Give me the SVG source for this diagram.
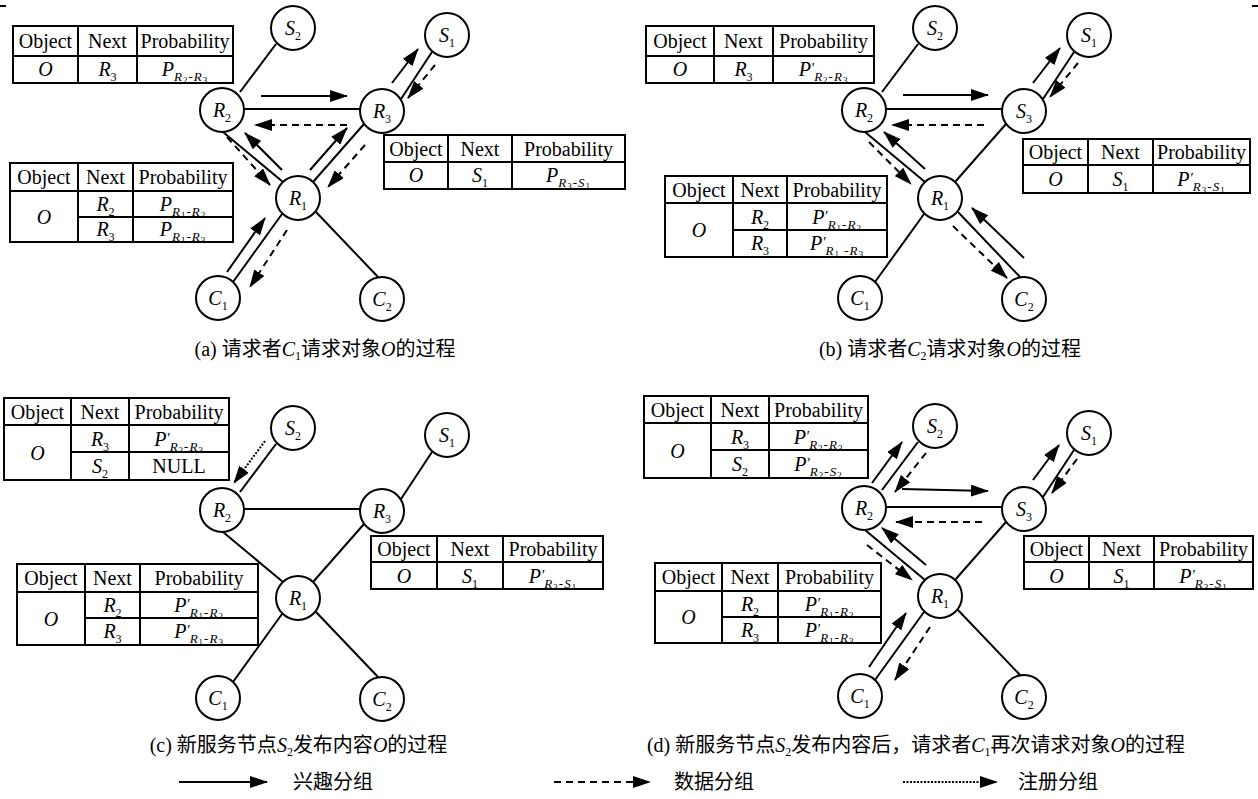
<svg xmlns="http://www.w3.org/2000/svg" width="1258" height="799" viewBox="0 0 1258 799">
<style>
.e{stroke:#000;stroke-width:2;fill:none}
.a{stroke:#000;stroke-width:2;fill:none;marker-end:url(#ah)}
.d{stroke-dasharray:7 5}
.o{stroke-dasharray:2 1.5}
.nd circle{fill:#fff;stroke:#000;stroke-width:2}
.lb{font-family:'Liberation Serif',serif;font-size:20px;text-anchor:middle}
.i{font-style:italic}
.sb{font-size:12px;font-style:normal}
.s1{font-size:13px;letter-spacing:1px}
.s2{font-size:9px;font-style:normal;letter-spacing:1px}
.pr{font-size:15px;font-style:italic}
.tb rect,.tb line{stroke:#000;stroke-width:2;fill:none}
.tb text{font-family:'Liberation Serif',serif;font-size:20px;text-anchor:middle}
.cap{font-family:'Liberation Serif','Noto Sans CJK SC',sans-serif;font-size:20px}
</style>
<defs>
<marker id="ah" viewBox="0 0 18 12" refX="17" refY="6" markerWidth="18" markerHeight="12" markerUnits="userSpaceOnUse" orient="auto"><path d="M0,0 L18,6 L0,12 z" fill="#000"/></marker>
</defs>
<line class="e" x1="0" y1="6" x2="6" y2="6"/>
<line class="e" x1="1252" y1="6" x2="1258" y2="6"/>

<g id="connectors">
<!-- panel a edges -->
<line class="e" x1="276" y1="44" x2="240" y2="92"/>
<line class="e" x1="244" y1="109" x2="360" y2="109"/>
<line class="e" x1="223" y1="132" x2="283" y2="182"/>
<line class="e" x1="364" y1="124" x2="313" y2="182"/>
<line class="e" x1="401" y1="99" x2="432" y2="52"/>
<line class="e" x1="282" y1="214" x2="233" y2="282"/>
<line class="e" x1="316" y1="212" x2="378" y2="277"/>
<!-- panel a arrows -->
<line class="a" x1="261" y1="96" x2="347" y2="96"/>
<line class="a d" x1="347" y1="125" x2="255" y2="125"/>
<line class="a" x1="282" y1="170" x2="245" y2="133"/>
<line class="a d" x1="227" y1="137" x2="270" y2="185"/>
<line class="a" x1="310" y1="170" x2="347" y2="128"/>
<line class="a d" x1="365" y1="145" x2="328" y2="187"/>
<line class="a" x1="392" y1="83" x2="418" y2="49"/>
<line class="a d" x1="435" y1="65" x2="408" y2="98"/>
<line class="a" x1="227" y1="272" x2="265" y2="218"/>
<line class="a d" x1="287" y1="230" x2="250" y2="287"/>
<!-- panel b edges -->
<line class="e" x1="918" y1="44" x2="882" y2="92"/>
<line class="e" x1="886" y1="109" x2="1002" y2="109"/>
<line class="e" x1="865" y1="132" x2="925" y2="182"/>
<line class="e" x1="1006" y1="124" x2="955" y2="182"/>
<line class="e" x1="1043" y1="99" x2="1074" y2="52"/>
<line class="e" x1="924" y1="214" x2="875" y2="282"/>
<line class="e" x1="958" y1="212" x2="1020" y2="277"/>
<!-- panel b arrows -->
<line class="a" x1="903" y1="95" x2="988" y2="95"/>
<line class="a d" x1="984" y1="125" x2="892" y2="125"/>
<line class="a" x1="925" y1="169" x2="884" y2="132"/>
<line class="a d" x1="869" y1="142" x2="911" y2="184"/>
<line class="a" x1="1033" y1="83" x2="1060" y2="48"/>
<line class="a d" x1="1078" y1="63" x2="1050" y2="97"/>
<line class="a" x1="1024" y1="258" x2="972" y2="208"/>
<line class="a d" x1="953" y1="226" x2="1007" y2="278"/>
<!-- panel c edges -->
<line class="e" x1="276" y1="444" x2="240" y2="492"/>
<line class="e" x1="244" y1="509" x2="360" y2="509"/>
<line class="e" x1="223" y1="532" x2="283" y2="582"/>
<line class="e" x1="364" y1="524" x2="313" y2="582"/>
<line class="e" x1="401" y1="499" x2="432" y2="452"/>
<line class="e" x1="282" y1="614" x2="233" y2="682"/>
<line class="e" x1="316" y1="612" x2="378" y2="677"/>
<!-- panel c arrow -->
<line class="a o" x1="265" y1="441" x2="234" y2="483"/>
<!-- panel d edges -->
<line class="e" x1="918" y1="442" x2="882" y2="490"/>
<line class="e" x1="886" y1="507" x2="1002" y2="507"/>
<line class="e" x1="865" y1="530" x2="925" y2="580"/>
<line class="e" x1="1006" y1="522" x2="955" y2="580"/>
<line class="e" x1="1043" y1="497" x2="1074" y2="450"/>
<line class="e" x1="924" y1="612" x2="875" y2="680"/>
<line class="e" x1="958" y1="610" x2="1020" y2="675"/>
<!-- panel d arrows -->
<line class="a" x1="872" y1="483" x2="902" y2="442"/>
<line class="a d" x1="926" y1="453" x2="895" y2="492"/>
<line class="a" x1="902" y1="489" x2="988" y2="491"/>
<line class="a d" x1="982" y1="522" x2="896" y2="522"/>
<line class="a" x1="926" y1="565" x2="882" y2="528"/>
<line class="a d" x1="867" y1="545" x2="912" y2="580"/>
<line class="a" x1="1033" y1="480" x2="1059" y2="445"/>
<line class="a d" x1="1077" y1="459" x2="1052" y2="493"/>
<line class="a" x1="869" y1="667" x2="906" y2="613"/>
<line class="a d" x1="930" y1="627" x2="895" y2="680"/>
<!-- legend -->
<line class="a" x1="179" y1="782" x2="267" y2="782"/>
<line class="a d" x1="554" y1="782" x2="650" y2="782"/>
<line class="a o" x1="903" y1="782" x2="997" y2="782"/>
</g>

<!-- panel a nodes -->
<g id="a-S2" class="nd"><circle cx="293" cy="28" r="22"/><text class="lb" x="293" y="35"><tspan class="i">S</tspan><tspan class="sb" dy="5">2</tspan></text></g>
<g id="a-S1" class="nd"><circle cx="447" cy="35" r="22"/><text class="lb" x="447" y="42"><tspan class="i">S</tspan><tspan class="sb" dy="5">1</tspan></text></g>
<g id="a-R2" class="nd"><circle cx="222" cy="110" r="22"/><text class="lb" x="222" y="117"><tspan class="i">R</tspan><tspan class="sb" dy="5">2</tspan></text></g>
<g id="a-R3" class="nd"><circle cx="382" cy="111" r="22"/><text class="lb" x="382" y="118"><tspan class="i">R</tspan><tspan class="sb" dy="5">3</tspan></text></g>
<g id="a-R1" class="nd"><circle cx="298" cy="198" r="22"/><text class="lb" x="298" y="205"><tspan class="i">R</tspan><tspan class="sb" dy="5">1</tspan></text></g>
<g id="a-C1" class="nd"><circle cx="218" cy="298" r="22"/><text class="lb" x="218" y="305"><tspan class="i">C</tspan><tspan class="sb" dy="5">1</tspan></text></g>
<g id="a-C2" class="nd"><circle cx="382" cy="299" r="22"/><text class="lb" x="382" y="306"><tspan class="i">C</tspan><tspan class="sb" dy="5">2</tspan></text></g>

<!-- panel b nodes -->
<g id="b-S2" class="nd"><circle cx="935" cy="28" r="22"/><text class="lb" x="935" y="35"><tspan class="i">S</tspan><tspan class="sb" dy="5">2</tspan></text></g>
<g id="b-S1" class="nd"><circle cx="1089" cy="35" r="22"/><text class="lb" x="1089" y="42"><tspan class="i">S</tspan><tspan class="sb" dy="5">1</tspan></text></g>
<g id="b-R2" class="nd"><circle cx="864" cy="110" r="22"/><text class="lb" x="864" y="117"><tspan class="i">R</tspan><tspan class="sb" dy="5">2</tspan></text></g>
<g id="b-S3" class="nd"><circle cx="1024" cy="111" r="22"/><text class="lb" x="1024" y="118"><tspan class="i">S</tspan><tspan class="sb" dy="5">3</tspan></text></g>
<g id="b-R1" class="nd"><circle cx="940" cy="198" r="22"/><text class="lb" x="940" y="205"><tspan class="i">R</tspan><tspan class="sb" dy="5">1</tspan></text></g>
<g id="b-C1" class="nd"><circle cx="860" cy="298" r="22"/><text class="lb" x="860" y="305"><tspan class="i">C</tspan><tspan class="sb" dy="5">1</tspan></text></g>
<g id="b-C2" class="nd"><circle cx="1024" cy="299" r="22"/><text class="lb" x="1024" y="306"><tspan class="i">C</tspan><tspan class="sb" dy="5">2</tspan></text></g>

<!-- panel c nodes -->
<g id="c-S2" class="nd"><circle cx="293" cy="428" r="22"/><text class="lb" x="293" y="435"><tspan class="i">S</tspan><tspan class="sb" dy="5">2</tspan></text></g>
<g id="c-S1" class="nd"><circle cx="447" cy="435" r="22"/><text class="lb" x="447" y="442"><tspan class="i">S</tspan><tspan class="sb" dy="5">1</tspan></text></g>
<g id="c-R2" class="nd"><circle cx="222" cy="510" r="22"/><text class="lb" x="222" y="517"><tspan class="i">R</tspan><tspan class="sb" dy="5">2</tspan></text></g>
<g id="c-R3" class="nd"><circle cx="382" cy="511" r="22"/><text class="lb" x="382" y="518"><tspan class="i">R</tspan><tspan class="sb" dy="5">3</tspan></text></g>
<g id="c-R1" class="nd"><circle cx="298" cy="598" r="22"/><text class="lb" x="298" y="605"><tspan class="i">R</tspan><tspan class="sb" dy="5">1</tspan></text></g>
<g id="c-C1" class="nd"><circle cx="218" cy="698" r="22"/><text class="lb" x="218" y="705"><tspan class="i">C</tspan><tspan class="sb" dy="5">1</tspan></text></g>
<g id="c-C2" class="nd"><circle cx="382" cy="699" r="22"/><text class="lb" x="382" y="706"><tspan class="i">C</tspan><tspan class="sb" dy="5">2</tspan></text></g>

<!-- panel d nodes -->
<g id="d-S2" class="nd"><circle cx="935" cy="426" r="22"/><text class="lb" x="935" y="433"><tspan class="i">S</tspan><tspan class="sb" dy="5">2</tspan></text></g>
<g id="d-S1" class="nd"><circle cx="1089" cy="433" r="22"/><text class="lb" x="1089" y="440"><tspan class="i">S</tspan><tspan class="sb" dy="5">1</tspan></text></g>
<g id="d-R2" class="nd"><circle cx="864" cy="508" r="22"/><text class="lb" x="864" y="515"><tspan class="i">R</tspan><tspan class="sb" dy="5">2</tspan></text></g>
<g id="d-S3" class="nd"><circle cx="1024" cy="509" r="22"/><text class="lb" x="1024" y="516"><tspan class="i">S</tspan><tspan class="sb" dy="5">3</tspan></text></g>
<g id="d-R1" class="nd"><circle cx="940" cy="596" r="22"/><text class="lb" x="940" y="603"><tspan class="i">R</tspan><tspan class="sb" dy="5">1</tspan></text></g>
<g id="d-C1" class="nd"><circle cx="860" cy="696" r="22"/><text class="lb" x="860" y="703"><tspan class="i">C</tspan><tspan class="sb" dy="5">1</tspan></text></g>
<g id="d-C2" class="nd"><circle cx="1024" cy="697" r="22"/><text class="lb" x="1024" y="704"><tspan class="i">C</tspan><tspan class="sb" dy="5">2</tspan></text></g>

<!-- tables panel a -->
<g id="a-T1" class="tb">
<rect x="13" y="26" width="220" height="57"/>
<line x1="13" y1="56" x2="233" y2="56"/><line x1="78" y1="26" x2="78" y2="83"/><line x1="137" y1="26" x2="137" y2="83"/>
<text x="45.5" y="48">Object</text><text x="107.5" y="48">Next</text><text x="185" y="48">Probability</text>
<text x="45.5" y="76" class="i">O</text>
<text x="107.5" y="76"><tspan class="i">R</tspan><tspan class="sb" dy="5">3</tspan></text>
<text x="185" y="76"><tspan class="i">P</tspan><tspan class="s1 i" dy="5">R</tspan><tspan class="s2" dy="2">2</tspan><tspan class="s1" dy="-2">-</tspan><tspan class="s1 i">R</tspan><tspan class="s2" dy="2">3</tspan></text>
</g>
<g id="a-T2" class="tb">
<rect x="10" y="163" width="223" height="79"/>
<line x1="10" y1="191" x2="233" y2="191"/><line x1="78" y1="163" x2="78" y2="242"/><line x1="133" y1="163" x2="133" y2="242"/><line x1="78" y1="217" x2="233" y2="217"/>
<text x="44" y="184">Object</text><text x="105.5" y="184">Next</text><text x="183" y="184">Probability</text>
<text x="44" y="223.5" class="i">O</text>
<text x="105.5" y="211"><tspan class="i">R</tspan><tspan class="sb" dy="5">2</tspan></text>
<text x="105.5" y="236"><tspan class="i">R</tspan><tspan class="sb" dy="5">3</tspan></text>
<text x="183" y="211"><tspan class="i">P</tspan><tspan class="s1 i" dy="5">R</tspan><tspan class="s2" dy="2">1</tspan><tspan class="s1" dy="-2">-</tspan><tspan class="s1 i">R</tspan><tspan class="s2" dy="2">2</tspan></text>
<text x="183" y="236"><tspan class="i">P</tspan><tspan class="s1 i" dy="5">R</tspan><tspan class="s2" dy="2">1</tspan><tspan class="s1" dy="-2">-</tspan><tspan class="s1 i">R</tspan><tspan class="s2" dy="2">3</tspan></text>
</g>
<g id="a-T3" class="tb">
<rect x="384" y="135" width="241" height="54"/>
<line x1="384" y1="162" x2="625" y2="162"/><line x1="448" y1="135" x2="448" y2="189"/><line x1="512" y1="135" x2="512" y2="189"/>
<text x="416" y="155.5">Object</text><text x="480" y="155.5">Next</text><text x="568.5" y="155.5">Probability</text>
<text x="416" y="182" class="i">O</text>
<text x="480" y="182"><tspan class="i">S</tspan><tspan class="sb" dy="5">1</tspan></text>
<text x="568.5" y="182"><tspan class="i">P</tspan><tspan class="s1 i" dy="5">R</tspan><tspan class="s2" dy="2">3</tspan><tspan class="s1" dy="-2">-</tspan><tspan class="s1 i">S</tspan><tspan class="s2" dy="2">1</tspan></text>
</g>

<!-- tables panel b -->
<g id="b-T1" class="tb">
<rect x="646" y="26" width="228" height="57"/>
<line x1="646" y1="56" x2="874" y2="56"/><line x1="714" y1="26" x2="714" y2="83"/><line x1="773" y1="26" x2="773" y2="83"/>
<text x="680" y="48">Object</text><text x="743.5" y="48">Next</text><text x="823.5" y="48">Probability</text>
<text x="680" y="76" class="i">O</text>
<text x="743.5" y="76"><tspan class="i">R</tspan><tspan class="sb" dy="5">3</tspan></text>
<text x="823.5" y="76"><tspan class="i">P</tspan><tspan class="pr" dy="-3">′</tspan><tspan class="s1 i" dy="8">R</tspan><tspan class="s2" dy="2">2</tspan><tspan class="s1" dy="-2">-</tspan><tspan class="s1 i">R</tspan><tspan class="s2" dy="2">3</tspan></text>
</g>
<g id="b-T2" class="tb">
<rect x="665" y="176" width="222" height="81"/>
<line x1="665" y1="203" x2="887" y2="203"/><line x1="733" y1="176" x2="733" y2="257"/><line x1="787" y1="176" x2="787" y2="257"/><line x1="733" y1="230" x2="887" y2="230"/>
<text x="699" y="196.5">Object</text><text x="760" y="196.5">Next</text><text x="837" y="196.5">Probability</text>
<text x="699" y="237" class="i">O</text>
<text x="760" y="223.5"><tspan class="i">R</tspan><tspan class="sb" dy="5">2</tspan></text>
<text x="760" y="250"><tspan class="i">R</tspan><tspan class="sb" dy="5">3</tspan></text>
<text x="837" y="223.5"><tspan class="i">P</tspan><tspan class="pr" dy="-3">′</tspan><tspan class="s1 i" dy="8">R</tspan><tspan class="s2" dy="2">1</tspan><tspan class="s1" dy="-2">-</tspan><tspan class="s1 i">R</tspan><tspan class="s2" dy="2">2</tspan></text>
<text x="837" y="250"><tspan class="i">P</tspan><tspan class="pr" dy="-3">′</tspan><tspan class="s1 i" dy="8">R</tspan><tspan class="s2" dy="2">1</tspan><tspan class="s1" dy="-2"> -</tspan><tspan class="s1 i">R</tspan><tspan class="s2" dy="2">3</tspan></text>
</g>
<g id="b-T3" class="tb">
<rect x="1023" y="139" width="227" height="54"/>
<line x1="1023" y1="165" x2="1250" y2="165"/><line x1="1088" y1="139" x2="1088" y2="193"/><line x1="1153" y1="139" x2="1153" y2="193"/>
<text x="1055.5" y="159">Object</text><text x="1120.5" y="159">Next</text><text x="1201.5" y="159">Probability</text>
<text x="1055.5" y="186" class="i">O</text>
<text x="1120.5" y="186"><tspan class="i">S</tspan><tspan class="sb" dy="5">1</tspan></text>
<text x="1201.5" y="186"><tspan class="i">P</tspan><tspan class="pr" dy="-3">′</tspan><tspan class="s1 i" dy="8">R</tspan><tspan class="s2" dy="2">3</tspan><tspan class="s1" dy="-2">-</tspan><tspan class="s1 i">S</tspan><tspan class="s2" dy="2">1</tspan></text>
</g>

<!-- tables panel c -->
<g id="c-T1" class="tb">
<rect x="4" y="398" width="225" height="82"/>
<line x1="4" y1="425" x2="229" y2="425"/><line x1="71" y1="398" x2="71" y2="480"/><line x1="129" y1="398" x2="129" y2="480"/><line x1="71" y1="452" x2="229" y2="452"/>
<text x="37.5" y="418.5">Object</text><text x="100" y="418.5">Next</text><text x="179" y="418.5">Probability</text>
<text x="37.5" y="459.5" class="i">O</text>
<text x="100" y="445.5"><tspan class="i">R</tspan><tspan class="sb" dy="5">3</tspan></text>
<text x="100" y="473"><tspan class="i">S</tspan><tspan class="sb" dy="5">2</tspan></text>
<text x="179" y="445.5"><tspan class="i">P</tspan><tspan class="pr" dy="-3">′</tspan><tspan class="s1 i" dy="8">R</tspan><tspan class="s2" dy="2">2</tspan><tspan class="s1" dy="-2">-</tspan><tspan class="s1 i">R</tspan><tspan class="s2" dy="2">3</tspan></text>
<text x="179" y="473">NULL</text>
</g>
<g id="c-T2" class="tb">
<rect x="17" y="564" width="241" height="81"/>
<line x1="17" y1="592" x2="258" y2="592"/><line x1="85" y1="564" x2="85" y2="645"/><line x1="140" y1="564" x2="140" y2="645"/><line x1="85" y1="618" x2="258" y2="618"/>
<text x="51" y="585">Object</text><text x="112.5" y="585">Next</text><text x="199" y="585">Probability</text>
<text x="51" y="625.5" class="i">O</text>
<text x="112.5" y="612"><tspan class="i">R</tspan><tspan class="sb" dy="5">2</tspan></text>
<text x="112.5" y="638"><tspan class="i">R</tspan><tspan class="sb" dy="5">3</tspan></text>
<text x="199" y="612"><tspan class="i">P</tspan><tspan class="pr" dy="-3">′</tspan><tspan class="s1 i" dy="8">R</tspan><tspan class="s2" dy="2">1</tspan><tspan class="s1" dy="-2">-</tspan><tspan class="s1 i">R</tspan><tspan class="s2" dy="2">2</tspan></text>
<text x="199" y="638"><tspan class="i">P</tspan><tspan class="pr" dy="-3">′</tspan><tspan class="s1 i" dy="8">R</tspan><tspan class="s2" dy="2">1</tspan><tspan class="s1" dy="-2">-</tspan><tspan class="s1 i">R</tspan><tspan class="s2" dy="2">3</tspan></text>
</g>
<g id="c-T3" class="tb">
<rect x="371" y="536" width="232" height="53"/>
<line x1="371" y1="562" x2="603" y2="562"/><line x1="437" y1="536" x2="437" y2="589"/><line x1="503" y1="536" x2="503" y2="589"/>
<text x="404" y="556">Object</text><text x="470" y="556">Next</text><text x="553" y="556">Probability</text>
<text x="404" y="582.5" class="i">O</text>
<text x="470" y="582.5"><tspan class="i">S</tspan><tspan class="sb" dy="5">1</tspan></text>
<text x="553" y="582.5"><tspan class="i">P</tspan><tspan class="pr" dy="-3">′</tspan><tspan class="s1 i" dy="8">R</tspan><tspan class="s2" dy="2">3</tspan><tspan class="s1" dy="-2">-</tspan><tspan class="s1 i">S</tspan><tspan class="s2" dy="2">1</tspan></text>
</g>

<!-- tables panel d -->
<g id="d-T1" class="tb">
<rect x="644" y="396" width="224" height="82"/>
<line x1="644" y1="423" x2="868" y2="423"/><line x1="711" y1="396" x2="711" y2="478"/><line x1="769" y1="396" x2="769" y2="478"/><line x1="711" y1="450" x2="868" y2="450"/>
<text x="677.5" y="416.5">Object</text><text x="740" y="416.5">Next</text><text x="818.5" y="416.5">Probability</text>
<text x="677.5" y="457.5" class="i">O</text>
<text x="740" y="443.5"><tspan class="i">R</tspan><tspan class="sb" dy="5">3</tspan></text>
<text x="740" y="471"><tspan class="i">S</tspan><tspan class="sb" dy="5">2</tspan></text>
<text x="818.5" y="443.5"><tspan class="i">P</tspan><tspan class="pr" dy="-3">′</tspan><tspan class="s1 i" dy="8">R</tspan><tspan class="s2" dy="2">2</tspan><tspan class="s1" dy="-2">-</tspan><tspan class="s1 i">R</tspan><tspan class="s2" dy="2">3</tspan></text>
<text x="818.5" y="471"><tspan class="i">P</tspan><tspan class="pr" dy="-3">′</tspan><tspan class="s1 i" dy="8">R</tspan><tspan class="s2" dy="2">2</tspan><tspan class="s1" dy="-2">-</tspan><tspan class="s1 i">S</tspan><tspan class="s2" dy="2">2</tspan></text>
</g>
<g id="d-T2" class="tb">
<rect x="655" y="563" width="226" height="80"/>
<line x1="655" y1="591" x2="881" y2="591"/><line x1="722" y1="563" x2="722" y2="643"/><line x1="778" y1="563" x2="778" y2="643"/><line x1="722" y1="617" x2="881" y2="617"/>
<text x="688.5" y="584">Object</text><text x="750" y="584">Next</text><text x="829.5" y="584">Probability</text>
<text x="688.5" y="624" class="i">O</text>
<text x="750" y="611"><tspan class="i">R</tspan><tspan class="sb" dy="5">2</tspan></text>
<text x="750" y="637"><tspan class="i">R</tspan><tspan class="sb" dy="5">3</tspan></text>
<text x="829.5" y="611"><tspan class="i">P</tspan><tspan class="pr" dy="-3">′</tspan><tspan class="s1 i" dy="8">R</tspan><tspan class="s2" dy="2">1</tspan><tspan class="s1" dy="-2">-</tspan><tspan class="s1 i">R</tspan><tspan class="s2" dy="2">2</tspan></text>
<text x="829.5" y="637"><tspan class="i">P</tspan><tspan class="pr" dy="-3">′</tspan><tspan class="s1 i" dy="8">R</tspan><tspan class="s2" dy="2">1</tspan><tspan class="s1" dy="-2">-</tspan><tspan class="s1 i">R</tspan><tspan class="s2" dy="2">3</tspan></text>
</g>
<g id="d-T3" class="tb">
<rect x="1024" y="536" width="229" height="53"/>
<line x1="1024" y1="562" x2="1253" y2="562"/><line x1="1089" y1="536" x2="1089" y2="589"/><line x1="1154" y1="536" x2="1154" y2="589"/>
<text x="1056.5" y="556">Object</text><text x="1121.5" y="556">Next</text><text x="1203.5" y="556">Probability</text>
<text x="1056.5" y="582.5" class="i">O</text>
<text x="1121.5" y="582.5"><tspan class="i">S</tspan><tspan class="sb" dy="5">1</tspan></text>
<text x="1203.5" y="582.5"><tspan class="i">P</tspan><tspan class="pr" dy="-3">′</tspan><tspan class="s1 i" dy="8">R</tspan><tspan class="s2" dy="2">3</tspan><tspan class="s1" dy="-2">-</tspan><tspan class="s1 i">S</tspan><tspan class="s2" dy="2">1</tspan></text>
</g>

<!-- captions -->
<g id="captions" class="cap">
<text x="325" y="356" text-anchor="middle">(a) 请求者<tspan class="i">C</tspan><tspan class="sb" dy="4">1</tspan><tspan dy="-4">请求对象</tspan><tspan class="i">O</tspan>的过程</text>
<text x="950" y="356" text-anchor="middle">(b) 请求者<tspan class="i">C</tspan><tspan class="sb" dy="4">2</tspan><tspan dy="-4">请求对象</tspan><tspan class="i">O</tspan>的过程</text>
<text x="298.5" y="752" text-anchor="middle">(c) 新服务节点<tspan class="i">S</tspan><tspan class="sb" dy="4">2</tspan><tspan dy="-4">发布内容</tspan><tspan class="i">O</tspan>的过程</text>
<text x="916" y="752" text-anchor="middle">(d) 新服务节点<tspan class="i">S</tspan><tspan class="sb" dy="4">2</tspan><tspan dy="-4">发布内容后，请求者</tspan><tspan class="i">C</tspan><tspan class="sb" dy="4">1</tspan><tspan dy="-4">再次请求对象</tspan><tspan class="i">O</tspan>的过程</text>
</g>
<g id="legend" class="cap">
<text x="293" y="789">兴趣分组</text>
<text x="674" y="789">数据分组</text>
<text x="1018" y="789">注册分组</text>
</g>
</svg>
